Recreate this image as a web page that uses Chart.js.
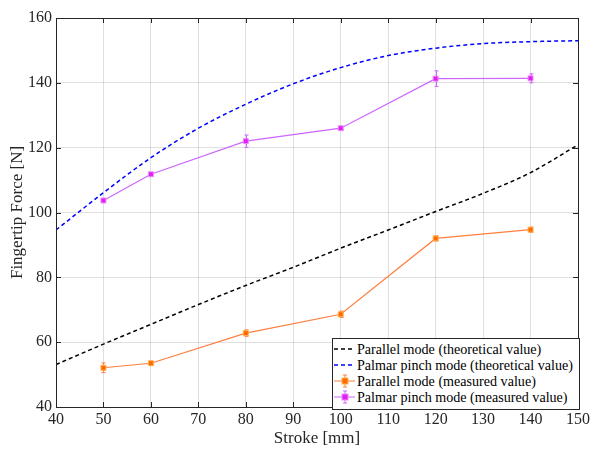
<!DOCTYPE html>
<html>
<head>
<meta charset="utf-8">
<script src="https://cdn.jsdelivr.net/npm/chart.js@4.4.1/dist/chart.umd.min.js"></script>
<style>
  html, body { margin: 0; padding: 0; background: #fff; }
  #wrap { position: relative; width: 593px; height: 450px; }
  #legend {
    position: absolute; left: 332px; top: 338px; width: 246px; height: 68px;
    border: 1px solid #262626; background: #fff; box-sizing: content-box;
    font-family: "Liberation Serif", "Times New Roman", serif; font-size: 14.1px; color: #000;
    padding-top: 2px; overflow: hidden;
  }
  .row { display: flex; align-items: center; height: 16px; white-space: nowrap; }
  .row svg { flex: none; margin-right: 1px; }
</style>
</head>
<body>
<div id="wrap">
  <canvas id="grafik" width="593" height="450"></canvas>
  <div id="legend"></div>
</div>
<script>
const strokes = [50, 60, 80, 100, 120, 140];
const parallelMeasured = [52.1, 53.5, 62.8, 68.6, 92.0, 94.7];
const parallelErr = [1.5, 0.4, 1.0, 1.0, 0.8, 0.8];
const palmarMeasured = [103.7, 111.8, 122.0, 126.0, 141.3, 141.4];
const palmarErr = [0.6, 0.4, 1.9, 0.5, 2.4, 1.4];

const theoryStroke = [40, 50, 60, 70, 80, 90, 100, 110, 120, 130, 140, 150];
const parallelTheory = [53.1, 59.4, 65.5, 71.6, 77.5, 83.1, 89.0, 94.6, 100.3, 105.9, 112.3, 120.9];
const palmarTheory = [94.6, 106.1, 116.9, 126.0, 133.4, 139.7, 144.7, 148.4, 150.7, 152.1, 152.7, 153.0];

const xTicks = [40, 50, 60, 70, 80, 90, 100, 110, 120, 130, 140, 150];
const yTicks = [40, 60, 80, 100, 120, 140, 160];

const labels = [
  "Parallel mode (theoretical value)",
  "Palmar pinch mode (theoretical value)",
  "Parallel mode (measured value)",
  "Palmar pinch mode (measured value)",
];

const serif = "'Liberation Serif', 'Times New Roman', serif";
const axisColor = "#262626";

const pts = (xs, ys) => xs.map((x, i) => ({ x: x, y: ys[i] }));

// error bars + MATLAB-like box with inward ticks
const extras = {
  id: "extras",
  beforeDatasetsDraw(chart) {
    const ctx = chart.ctx;
    const xs = chart.scales.x;
    const ys = chart.scales.y;
    chart.data.datasets.forEach((ds) => {
      if (!ds.err) return;
      ctx.save();
      ctx.strokeStyle = ds.borderColor;
      ctx.lineWidth = 1;
      ds.data.forEach((p, i) => {
        const px = Math.round(xs.getPixelForValue(p.x)) + 0.5;
        const top = ys.getPixelForValue(p.y + ds.err[i]);
        const bot = ys.getPixelForValue(p.y - ds.err[i]);
        ctx.beginPath();
        ctx.moveTo(px, top); ctx.lineTo(px, bot);
        ctx.moveTo(px - 2, top); ctx.lineTo(px + 2, top);
        ctx.moveTo(px - 2, bot); ctx.lineTo(px + 2, bot);
        ctx.stroke();
      });
      ctx.restore();
    });
  },
  afterDraw(chart) {
    const ctx = chart.ctx;
    const a = chart.chartArea;
    const xs = chart.scales.x;
    const ys = chart.scales.y;
    ctx.save();
    ctx.strokeStyle = axisColor;
    ctx.lineWidth = 1;
    ctx.strokeRect(Math.round(a.left) + 0.5, Math.round(a.top) + 0.5,
      Math.round(a.right - a.left), Math.round(a.bottom - a.top));
    ctx.beginPath();
    xTicks.forEach((v) => {
      const px = Math.round(xs.getPixelForValue(v)) + 0.5;
      ctx.moveTo(px, a.bottom); ctx.lineTo(px, a.bottom - 5);
      ctx.moveTo(px, a.top); ctx.lineTo(px, a.top + 5);
    });
    yTicks.forEach((v) => {
      const py = Math.round(ys.getPixelForValue(v)) + 0.5;
      ctx.moveTo(a.left, py); ctx.lineTo(a.left + 5, py);
      ctx.moveTo(a.right, py); ctx.lineTo(a.right - 5, py);
    });
    ctx.stroke();
    ctx.restore();
  },
};

const myChart = new Chart(document.querySelector("#grafik"), {
  type: "line",
  data: {
    datasets: [
      {
        label: labels[0],
        data: pts(theoryStroke, parallelTheory),
        borderColor: "#000000",
        borderWidth: 1.5,
        borderDash: [4, 3],
        pointRadius: 0,
        cubicInterpolationMode: "monotone",
      },
      {
        label: labels[1],
        data: pts(theoryStroke, palmarTheory),
        borderColor: "#0000FF",
        borderWidth: 1.5,
        borderDash: [4, 3],
        pointRadius: 0,
        cubicInterpolationMode: "monotone",
      },
      {
        label: labels[2],
        data: pts(strokes, parallelMeasured),
        err: parallelErr,
        borderColor: "#FF7F3F",
        borderWidth: 1.2,
        pointStyle: "rect",
        pointRadius: 3.5,
        pointBackgroundColor: "#FF6A00",
        pointBorderColor: "#FFB04A",
        pointBorderWidth: 1,
      },
      {
        label: labels[3],
        data: pts(strokes, palmarMeasured),
        err: palmarErr,
        borderColor: "#CC66FF",
        borderWidth: 1.2,
        pointStyle: "rect",
        pointRadius: 3.5,
        pointBackgroundColor: "#E020F0",
        pointBorderColor: "#EE88FF",
        pointBorderWidth: 1,
      },
    ],
  },
  options: {
    responsive: false,
    devicePixelRatio: 1,
    animation: false,
    layout: { padding: { top: 18, right: 14, left: 0, bottom: 0 } },
    plugins: { legend: { display: false }, tooltip: { enabled: false } },
    scales: {
      x: {
        type: "linear",
        min: 40,
        max: 150,
        afterFit: (s) => { s.height = 43; },
        afterBuildTicks: (s) => { s.ticks = xTicks.map((v) => ({ value: v })); },
        ticks: { color: "#262626", font: { family: serif, size: 16 }, padding: 3, maxRotation: 0 },
        grid: { color: "rgba(0,0,0,0.12)", drawTicks: false },
        border: { display: false },
        title: {
          display: true, text: "Stroke [mm]", color: "#262626",
          font: { family: serif, size: 17 }, padding: { top: 0, bottom: 1 },
        },
      },
      y: {
        min: 40,
        max: 160,
        afterFit: (s) => { s.width = 56; },
        afterBuildTicks: (s) => { s.ticks = yTicks.map((v) => ({ value: v })); },
        ticks: { color: "#262626", font: { family: serif, size: 16 }, padding: 4 },
        grid: { color: "rgba(0,0,0,0.12)", drawTicks: false },
        border: { display: false },
        title: {
          display: true, text: "Fingertip Force [N]", color: "#262626",
          font: { family: serif, size: 17 }, padding: { top: 7, bottom: 0 },
        },
      },
    },
  },
  plugins: [extras],
});

// legend built from the datasets
const legend = document.querySelector("#legend");
myChart.data.datasets.forEach((ds) => {
  const row = document.createElement("div");
  row.className = "row";
  let sym;
  if (ds.err) {
    sym = `<svg width="23" height="16"><line x1="1" y1="8" x2="22" y2="8" stroke="${ds.borderColor}" stroke-width="1"/>` +
      `<line x1="12" y1="2" x2="12" y2="14" stroke="${ds.borderColor}"/>` +
      `<line x1="10" y1="2" x2="14" y2="2" stroke="${ds.borderColor}"/>` +
      `<line x1="10" y1="14" x2="14" y2="14" stroke="${ds.borderColor}"/>` +
      `<rect x="9" y="5" width="6" height="6" fill="${ds.pointBackgroundColor}" stroke="${ds.pointBorderColor}"/></svg>`;
  } else {
    sym = `<svg width="23" height="16"><line x1="1" y1="8" x2="22" y2="8" stroke="${ds.borderColor}" stroke-width="1.5" stroke-dasharray="4 3"/></svg>`;
  }
  row.innerHTML = sym + `<span>${ds.label}</span>`;
  legend.appendChild(row);
});
</script>
</body>
</html>
